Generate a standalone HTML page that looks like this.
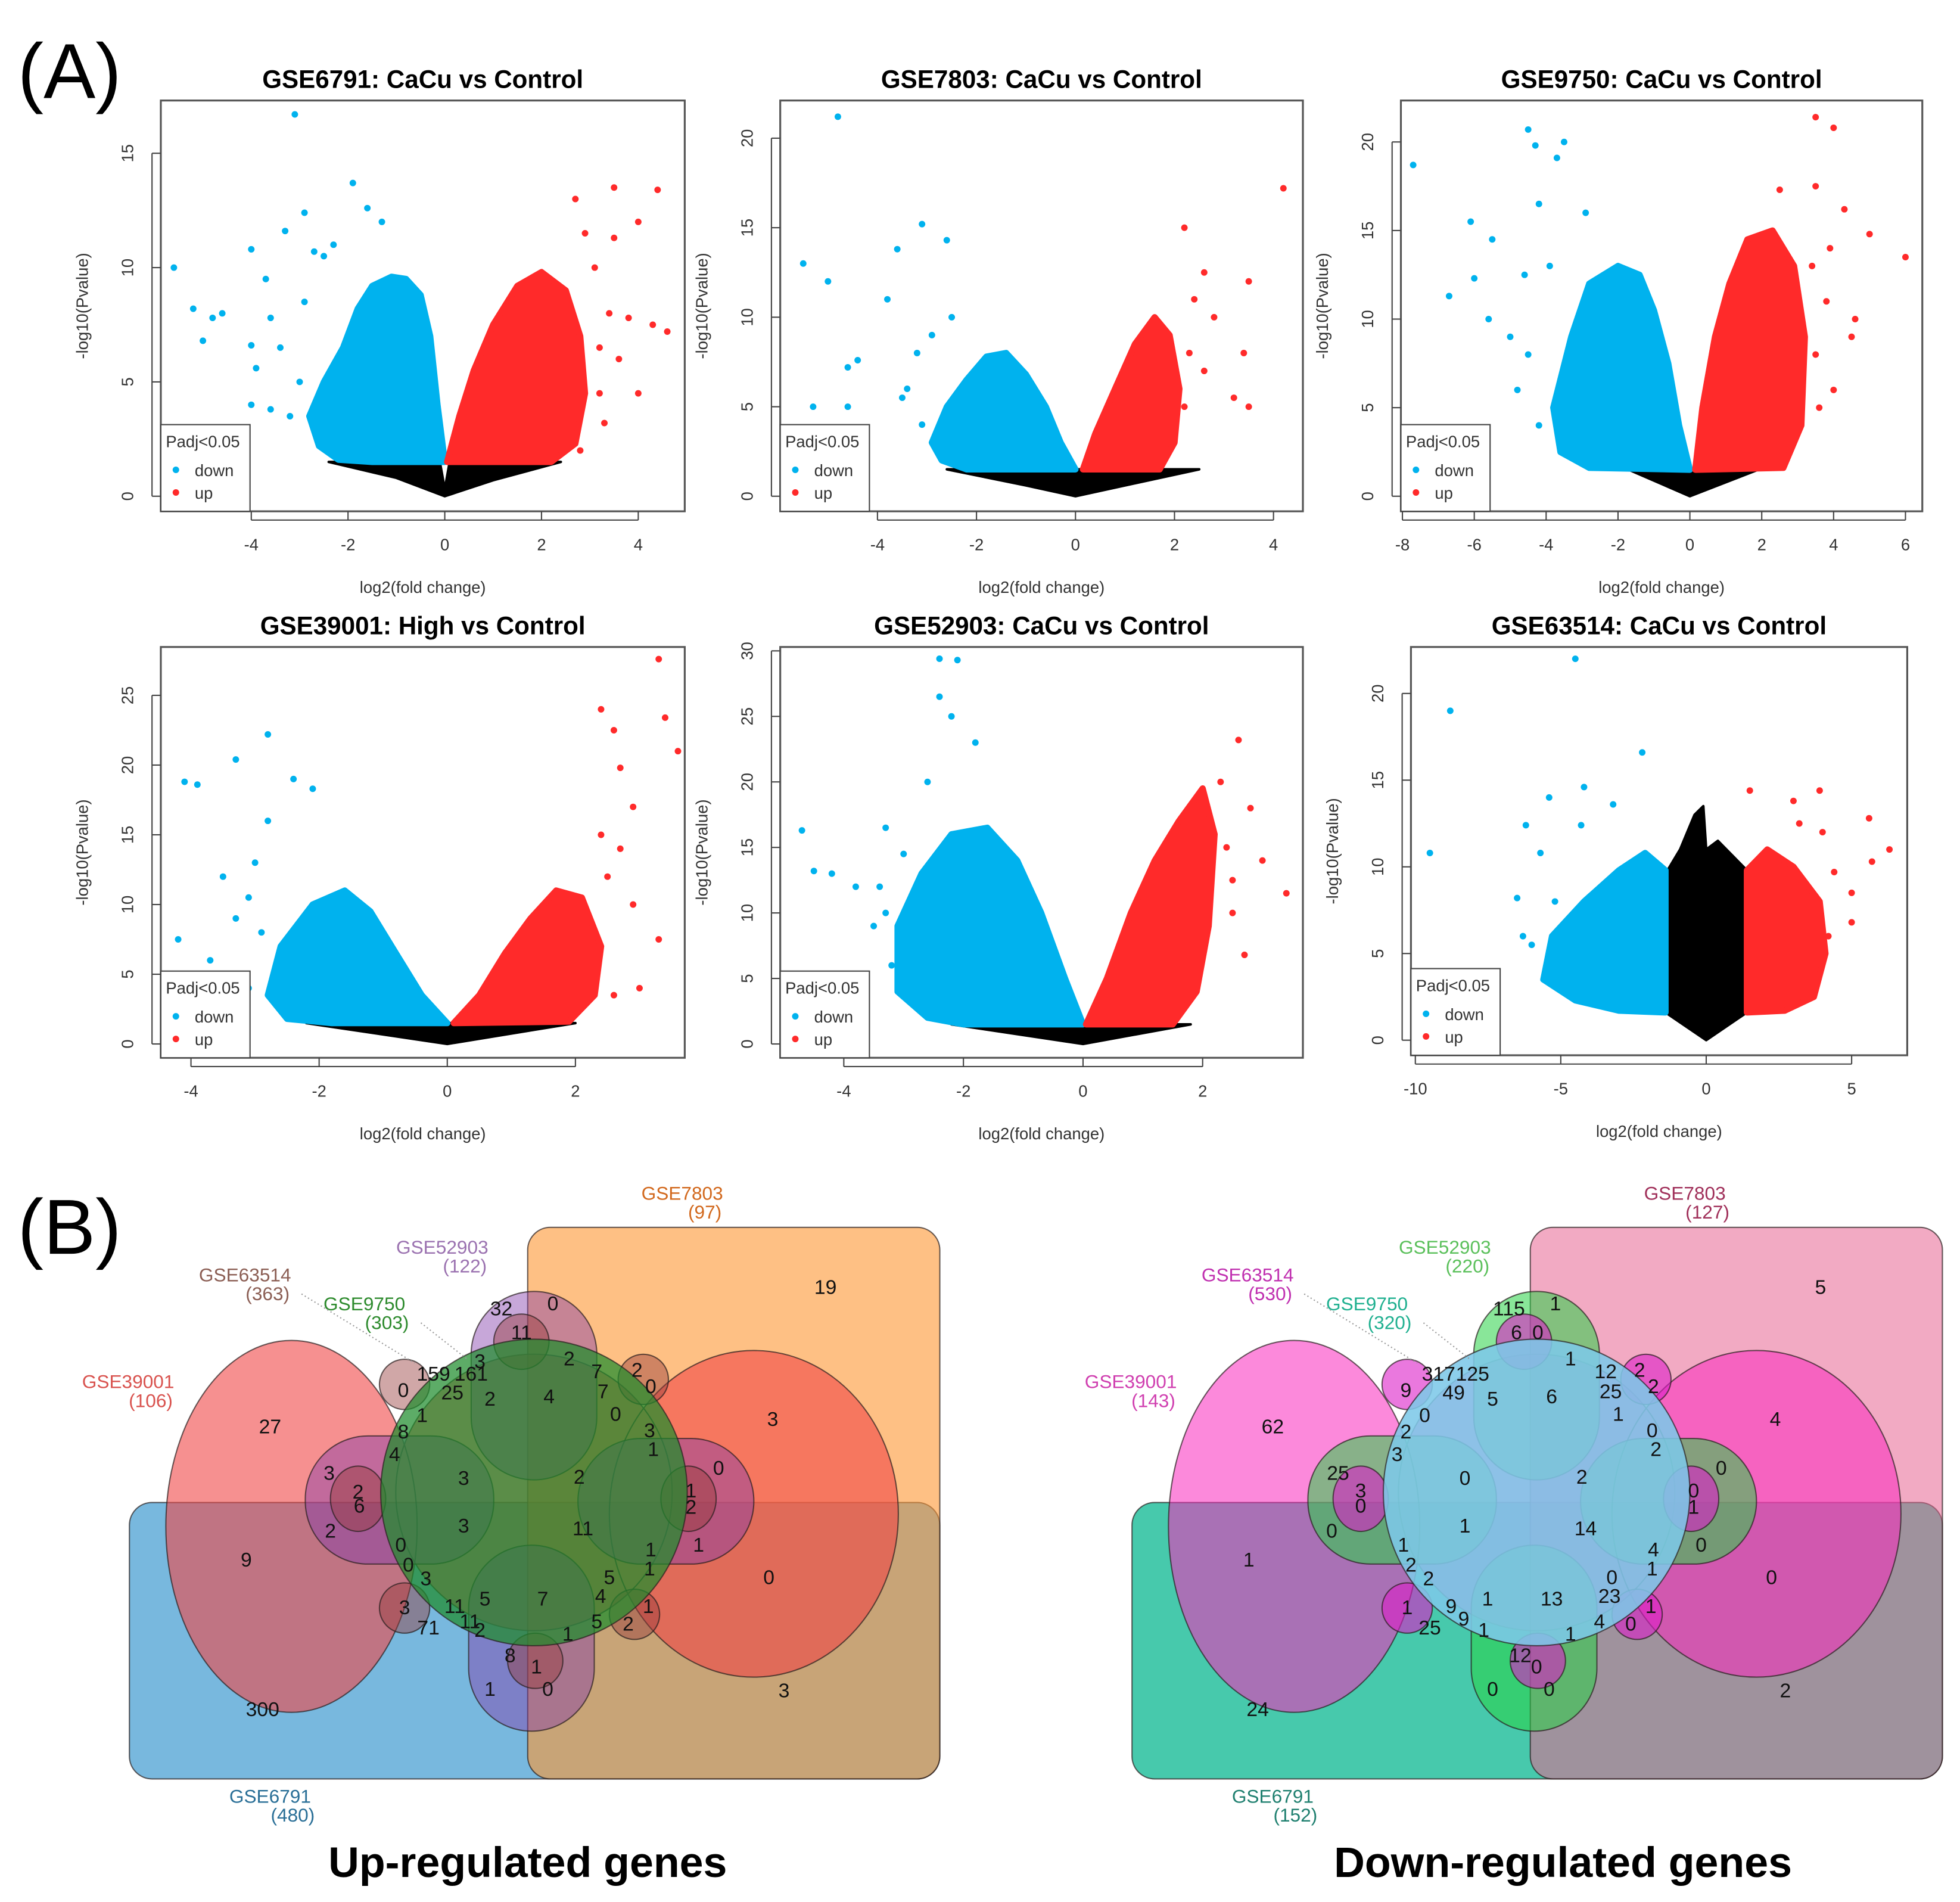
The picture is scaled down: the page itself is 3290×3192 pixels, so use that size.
<!DOCTYPE html>
<html><head><meta charset="utf-8">
<style>
html,body{margin:0;padding:0;background:#fff;}
svg{display:block;}
text{font-family:"Liberation Sans",sans-serif;}
</style></head>
<body>
<svg id="fig" xmlns="http://www.w3.org/2000/svg" width="3290" height="3192" viewBox="0 0 1560 1514" preserveAspectRatio="none">
<rect x="0" y="0" width="1560" height="1514" fill="#fff"/>
<text x="14" y="78" font-size="62">(A)</text>
<text x="14" y="998" font-size="62">(B)</text>
<g id="volc"></g>
<g id="venn"></g>
<text x="420" y="1494" font-size="34" font-weight="bold" text-anchor="middle">Up-regulated genes</text>
<text x="1244" y="1494" font-size="34" font-weight="bold" text-anchor="middle">Down-regulated genes</text>
</svg>
<script>
// ---------- Volcano data (data coordinates: log2FC, -log10 P) ----------
const titles = ["GSE6791: CaCu vs Control","GSE7803: CaCu vs Control","GSE9750: CaCu vs Control","GSE39001: High vs Control","GSE52903: CaCu vs Control","GSE63514: CaCu vs Control"];
const xTicks = [[-4,-2,0,2,4],[-4,-2,0,2,4],[-8,-6,-4,-2,0,2,4,6],[-4,-2,0,2],[-4,-2,0,2],[-10,-5,0,5]];
const yTicks = [[0,5,10,15],[0,5,10,15,20],[0,5,10,15,20],[0,5,10,15,20,25],[0,5,10,15,20,25,30],[0,5,10,15,20]];
const blueEnv = [
 [[0,1.5],[-0.15,4],[-0.3,7],[-0.5,8.8],[-0.8,9.5],[-1.1,9.6],[-1.5,9.2],[-1.8,8.2],[-2.1,6.5],[-2.5,5],[-2.8,3.5],[-2.6,2.2],[-2.2,1.6],[-1.5,1.5]],
 [[0,1.5],[-0.3,3],[-0.6,5],[-1,6.8],[-1.4,8],[-1.8,7.8],[-2.2,6.5],[-2.6,5],[-2.9,3],[-2.7,2],[-2.2,1.5]],
 [[0,1.5],[-0.3,4],[-0.6,7.5],[-1,10.5],[-1.4,12.5],[-2,13],[-2.8,12],[-3.3,9],[-3.8,5],[-3.6,2.5],[-2.8,1.6]],
 [[0,1.5],[-0.4,3.5],[-0.8,6.5],[-1.2,9.5],[-1.6,11],[-2.1,10],[-2.6,7],[-2.8,3.5],[-2.5,1.8],[-1.8,1.5]],
 [[0,1.5],[-0.3,5],[-0.7,10],[-1.1,14],[-1.6,16.5],[-2.2,16],[-2.7,13],[-3.1,9],[-3.1,4],[-2.6,2],[-2,1.5]],
 [[-1.4,1.6],[-1.4,9.8],[-2.1,10.8],[-3,9.8],[-4.2,8],[-5.3,6],[-5.6,3.5],[-4.5,2.3],[-3,1.7]]
];
const redEnv = [
 [[0.05,1.5],[0.3,3.5],[0.6,5.5],[1,7.5],[1.5,9.2],[2,9.8],[2.5,9],[2.8,7],[2.9,4.5],[2.7,2.3],[2.2,1.5]],
 [[0.15,1.5],[0.4,3.5],[0.8,6],[1.2,8.5],[1.6,10],[1.9,9],[2.1,6],[2,3],[1.7,1.5]],
 [[0.15,1.5],[0.35,5],[0.7,9],[1.1,12],[1.6,14.5],[2.3,15],[2.9,13],[3.2,9],[3.1,4],[2.6,1.6]],
 [[0.1,1.5],[0.5,3.5],[0.9,6.5],[1.3,9],[1.7,11],[2.1,10.5],[2.4,7],[2.3,3.5],[1.9,1.6]],
 [[0.05,1.5],[0.4,5],[0.8,10],[1.2,14],[1.6,17],[2,19.5],[2.2,16],[2.1,9],[1.9,4],[1.5,1.5]],
 [[1.4,1.6],[1.4,9.8],[2.1,11],[3,10],[3.9,8],[4.1,5],[3.7,2.5],[2.7,1.7]]
];
const blackEnv = [
 [[-2.4,1.5],[-1,0.8],[0,0],[1,0.7],[2.4,1.5],[0.1,1.5],[0,0.3],[-0.1,1.5]],
 [[-2.6,1.5],[-1,0.6],[0,0],[1,0.6],[2.5,1.5]],
 [[-1.7,1.5],[0,0],[1.9,1.5]],
 [[-2.2,1.5],[0,0],[2,1.5]],
 [[-2.2,1.5],[0,0],[1.8,1.5]],
 [[-1.4,1.6],[-1.4,9.6],[-0.9,11],[-0.4,13],[-0.1,13.5],[0,11],[0.4,11.5],[1.4,9.8],[1.4,1.6],[0,0]]
];
const blueOut = [
 [[-3.1,16.7],[-1.9,13.7],[-1.6,12.6],[-2.9,12.4],[-3.3,11.6],[-4,10.8],[-5.6,10],[-5.2,8.2],[-4.6,8],[-5,6.8],[-4,6.6],[-3.6,7.8],[-4,4],[-3.6,3.8],[-3.9,5.6],[-2.7,10.7],[-3.4,6.5],[-3,5],[-2.9,8.5],[-3.2,3.5],[-2.5,10.5],[-2.3,11],[-1.3,12],[-4.8,7.8],[-3.7,9.5]],
 [[-4.8,21.2],[-3.1,15.2],[-5.5,13],[-2.6,14.3],[-3.6,13.8],[-5,12],[-3.8,11],[-4.6,7.2],[-4.4,7.6],[-5.3,5],[-4.6,5],[-3.2,8],[-3.4,6],[-3.1,4],[-2.9,9],[-3.5,5.5],[-2.5,10]],
 [[-4.5,20.7],[-4.3,19.8],[-3.5,20],[-3.7,19.1],[-7.7,18.7],[-6.1,15.5],[-6.7,11.3],[-5.5,14.5],[-4.2,16.5],[-4.6,12.5],[-2.9,16],[-6,12.3],[-5,9],[-4.5,8],[-4.8,6],[-4.2,4],[-5.6,10],[-3.9,13]],
 [[-2.8,22.2],[-3.3,20.4],[-4.1,18.8],[-3.9,18.6],[-2.4,19],[-4.2,7.5],[-3.5,12],[-3.7,6],[-2.1,18.3],[-3,13],[-3.3,9],[-3.1,4],[-2.9,8],[-3.6,3],[-2.8,16],[-3.1,10.5],[-2.7,5]],
 [[-2.4,29.4],[-2.1,29.3],[-2.4,26.5],[-2.2,25],[-4.7,16.3],[-4.5,13.2],[-4.2,13],[-3.3,16.5],[-1.8,23],[-3.3,10],[-3.5,9],[-3.2,6],[-3.4,12],[-2.6,20],[-3,14.5],[-3.8,12]],
 [[-4.5,22],[-8.8,19],[-9.5,10.8],[-2.2,16.6],[-4.2,14.6],[-5.4,14],[-6.2,12.4],[-6.5,8.2],[-6.3,6],[-5.7,10.8],[-4.3,12.4],[-3.2,13.6],[-5.2,8],[-6,5.5]]
];
const redOut = [
 [[4.4,13.4],[3.5,13.5],[4,12],[4.3,7.5],[4.6,7.2],[4,4.5],[3.6,6],[2.7,13],[3.3,3.2],[3.1,10],[3.4,8],[3.2,6.5],[2.9,11.5],[3.5,11.3],[3.8,7.8],[3.2,4.5],[2.8,2]],
 [[4.2,17.2],[2.2,15],[3.5,12],[3.4,8],[3.2,5.5],[3.5,5],[2.8,10],[2.6,12.5],[2.4,11],[2.3,8],[2.2,5],[2.6,7]],
 [[3.5,21.4],[4,20.8],[6,13.5],[5,14.8],[4.3,16.2],[3.5,17.5],[2.5,17.3],[4.6,10],[4.5,9],[3.8,11],[3.5,8],[3.4,13],[4,6],[3.6,5],[3.9,14]],
 [[3.3,27.6],[2.4,24],[3.4,23.4],[3.6,21],[2.6,22.5],[3.3,7.5],[2.7,19.8],[2.9,17],[2.7,14],[2.5,12],[2.9,10],[3,4],[2.6,3.5],[2.4,15]],
 [[3.4,11.5],[2.6,23.2],[2.8,18],[3,14],[2.5,10],[2.7,6.8],[2.4,15],[2.3,20],[2.5,12.5]],
 [[3.9,14.4],[1.5,14.4],[6.3,11],[5.6,12.8],[5.7,10.3],[5,8.5],[5,6.8],[3,13.8],[4.4,9.7],[4.2,6],[4,12],[3.2,12.5]]
];
// ---------- layout (pixel geometry, not data) ----------
const boxes = [[128,80,545,407],[621,80,1037,407],[1115,80,1530,407],[128,515,545,842],[621,515,1037,842],[1123,515,1518,840]];
const x0px = [354,856,1345,356,862,1358], xppu = [38.5,39.4,28.6,51,47.6,23.15];
const y0px = [395,395,395,831,831,828], yppu = [18.2,14.25,14.1,11.1,10.43,13.8];
const NS="http://www.w3.org/2000/svg";
function mk(tag,attrs,parent){const e=document.createElementNS(NS,tag);for(const k in attrs)e.setAttribute(k,attrs[k]);parent.appendChild(e);return e;}
const volc=document.getElementById('volc');
for(let p=0;p<6;p++){
  const [bx0,by0,bx1,by1]=boxes[p];
  const sx=v=>x0px[p]+v*xppu[p], sy=v=>y0px[p]-v*yppu[p];
  const g=mk('g',{},volc);
  
  
  const t=mk('text',{x:(bx0+bx1)/2,y:by0-10,'font-size':20,'font-weight':'bold','text-anchor':'middle'},g);
  t.textContent=titles[p];
  
  
  const clip=mk('g',{},g);
  const pts=e=>e.map(d=>sx(d[0]).toFixed(1)+','+sy(d[1]).toFixed(1)).join(' ');
  const be=mk('polygon',{points:pts(blackEnv[p]),fill:'#000','stroke':'#000','stroke-width':2,'stroke-linejoin':'round'},clip);
  
  
  const bl=mk('polygon',{points:pts(blueEnv[p]),fill:'#00B2EE','stroke':'#00B2EE','stroke-width':5,'stroke-linejoin':'round'},clip);
  
  
  const rd=mk('polygon',{points:pts(redEnv[p]),fill:'#FF2A2A','stroke':'#FF2A2A','stroke-width':5,'stroke-linejoin':'round'},clip);
  
  
  blueOut[p].forEach(d=>{const c=mk('circle',{cx:sx(d[0]),cy:sy(d[1]),r:2.6,fill:'#00B2EE'},clip);
    
    });
  redOut[p].forEach(d=>{const c=mk('circle',{cx:sx(d[0]),cy:sy(d[1]),r:2.6,fill:'#FF2A2A'},clip);
    
    });
  const fr=mk('rect',{x:bx0,y:by0,width:bx1-bx0,height:by1-by0,fill:'none',stroke:'#555','stroke-width':1.5},g);
  
  
  xTicks[p].forEach(v=>{const x=sx(v);mk('line',{x1:x,x2:x,y1:by1,y2:by1+7,stroke:'#444'},g);
    const tt=mk('text',{x:x,y:by1+31,'font-size':13,'text-anchor':'middle',fill:'#333'},g);tt.textContent=v;
    
    });
  const xs=xTicks[p];mk('line',{x1:sx(xs[0]),x2:sx(xs[xs.length-1]),y1:by1+7,y2:by1+7,stroke:'#444'},g);
  yTicks[p].forEach(v=>{const y=sy(v);mk('line',{x1:bx0,x2:bx0-7,y1:y,y2:y,stroke:'#444'},g);
    const tt=mk('text',{x:bx0-22,y:y,'font-size':13,'text-anchor':'middle',fill:'#333',transform:`rotate(-90 ${bx0-22} ${y})`},g);tt.textContent=v;
    
    });
  const ys=yTicks[p];mk('line',{x1:bx0-7,x2:bx0-7,y1:sy(ys[0]),y2:sy(ys[ys.length-1]),stroke:'#444'},g);
  const xl=mk('text',{x:(bx0+bx1)/2,y:by1+65,'font-size':13,'text-anchor':'middle',fill:'#333'},g);xl.textContent='log2(fold change)';
  
  
  const yx=bx0-58,yy=(by0+by1)/2;
  const yl=mk('text',{x:yx,y:yy,'font-size':13,'text-anchor':'middle',fill:'#333',transform:`rotate(-90 ${yx} ${yy})`},g);yl.textContent='-log10(Pvalue)';
  
  
  const lg=mk('g',{},g);
  
  
  mk('rect',{x:bx0,y:by1-69,width:71,height:69,fill:'#fff',stroke:'#444','stroke-width':1},lg);
  const l1=mk('text',{x:bx0+4,y:by1-51,'font-size':13,fill:'#333'},lg);l1.textContent='Padj<0.05';
  mk('circle',{cx:bx0+12,cy:by1-33,r:2.6,fill:'#00B2EE'},lg);
  const l2=mk('text',{x:bx0+27,y:by1-28,'font-size':13,fill:'#333'},lg);l2.textContent='down';
  mk('circle',{cx:bx0+12,cy:by1-15,r:2.6,fill:'#FF2A2A'},lg);
  const l3=mk('text',{x:bx0+27,y:by1-10,'font-size':13,fill:'#333'},lg);l3.textContent='up';
}
// ---------- Venn diagrams ----------
const vennNumsUp = [[215,1135,"27"],[196,1241,"9"],[209,1360,"300"],[657,1024,"19"],[615,1129,"3"],[612,1255,"0"],[624,1345,"3"],[399,1041,"32"],[440,1037,"0"],[415,1060,"11"],[262,1172,"3"],[285,1187,"2"],[286,1198,"6"],[263,1218,"2"],[572,1168,"0"],[550,1186,"1"],[550,1199,"2"],[556,1229,"1"],[369,1176,"3"],[461,1175,"2"],[369,1214,"3"],[464,1216,"11"],[437,1111,"4"],[390,1113,"2"],[432,1272,"7"],[386,1272,"5"],[345,1093,"159"],[375,1093,"161"],[360,1108,"25"],[382,1083,"3"],[321,1106,"0"],[336,1126,"1"],[321,1139,"8"],[314,1157,"4"],[453,1081,"2"],[475,1091,"7"],[480,1107,"7"],[490,1125,"0"],[507,1090,"2"],[518,1103,"0"],[517,1138,"3"],[520,1153,"1"],[518,1233,"1"],[517,1248,"1"],[485,1255,"5"],[478,1270,"4"],[516,1278,"1"],[475,1290,"5"],[500,1292,"2"],[452,1300,"1"],[319,1229,"0"],[325,1245,"0"],[339,1256,"3"],[322,1279,"3"],[341,1295,"71"],[362,1278,"11"],[374,1290,"11"],[382,1297,"2"],[406,1317,"8"],[427,1326,"1"],[390,1344,"1"],[436,1344,"0"]];
const vennNumsDown = [[1449,1024,"5"],[1413,1129,"4"],[1410,1255,"0"],[1421,1345,"2"],[1013,1135,"62"],[994,1241,"1"],[1001,1360,"24"],[1201,1041,"115"],[1238,1037,"1"],[1207,1060,"6"],[1224,1060,"0"],[1065,1172,"25"],[1060,1218,"0"],[1083,1186,"3"],[1083,1198,"0"],[1370,1168,"0"],[1348,1186,"0"],[1348,1199,"1"],[1354,1229,"0"],[1166,1176,"0"],[1259,1175,"2"],[1166,1214,"1"],[1262,1216,"14"],[1235,1111,"6"],[1188,1113,"5"],[1235,1272,"13"],[1184,1272,"1"],[1145,1093,"317"],[1172,1093,"125"],[1157,1108,"49"],[1119,1106,"9"],[1134,1126,"0"],[1119,1139,"2"],[1112,1157,"3"],[1250,1081,"1"],[1278,1091,"12"],[1282,1107,"25"],[1288,1125,"1"],[1305,1090,"2"],[1316,1103,"2"],[1315,1138,"0"],[1318,1153,"2"],[1316,1233,"4"],[1315,1248,"1"],[1283,1255,"0"],[1281,1270,"23"],[1314,1278,"1"],[1273,1290,"4"],[1298,1292,"0"],[1250,1300,"1"],[1117,1229,"1"],[1123,1245,"2"],[1137,1256,"2"],[1120,1279,"1"],[1138,1295,"25"],[1155,1278,"9"],[1165,1288,"9"],[1181,1297,"1"],[1210,1317,"12"],[1223,1326,"0"],[1188,1344,"0"],[1233,1344,"0"]];
const setNamesUp = ["GSE7803","GSE52903","GSE63514","GSE9750","GSE39001","GSE6791"];
const setSizesUp = [97,122,363,303,106,480];
const setSizesDown = [127,220,530,320,143,152];
const labelPos = [[543,955,'middle'],[352,998,'middle'],[195,1020,'middle'],[290,1043,'middle'],[102,1105,'middle'],[215,1435,'middle']];
const colUp = {A:'rgba(30,136,200,0.6)',B:'rgba(253,150,50,0.6)',R:'rgba(240,70,70,0.6)',P:'rgba(130,60,170,0.45)',S:'rgba(150,60,60,0.45)',G:'rgba(30,140,45,0.72)'};
const colDn = {A:'rgba(0,180,140,0.72)',B:'rgba(232,100,145,0.55)',R:'rgba(250,40,190,0.55)',P:'rgba(40,210,70,0.55)',S:'rgba(220,30,200,0.6)',G:'rgba(125,200,232,0.88)'};
const labColUp = ['#D2691E','#9B72B0','#8B5E54','#2E8B2E','#D9534F','#2A6F97'];
const labColDn = ['#A0305A','#5BC05B','#C030B0','#20B090','#D040B0','#208070'];
const venn=document.getElementById('venn');
function ell(cx,cy,rx,ry){return `M${cx-rx},${cy} a${rx},${ry} 0 1,0 ${2*rx},0 a${rx},${ry} 0 1,0 ${-2*rx},0 Z `;}
function rr(x,y,w,h,r){return `M${x+r},${y} h${w-2*r} a${r},${r} 0 0 1 ${r},${r} v${h-2*r} a${r},${r} 0 0 1 ${-r},${r} h${-(w-2*r)} a${r},${r} 0 0 1 ${-r},${-r} v${-(h-2*r)} a${r},${r} 0 0 1 ${r},${-r} Z `;}
function drawVenn(dx,col,nums,sizes,labCol,side){
  const g=mk('g',{transform:`translate(${dx},0)`},venn);
  
  
  const shapes=[
    ['A',rr(103,1196,645,220,18),'set-gse6791'],
    ['B',rr(420,977,328,439,18),'set-gse7803'],
    ['R',ell(232,1215,100,148)+ell(600,1205,115,130)+ell(425,1188,110,110),'set-gse39001'],
    ['P',rr(375,1028,100,150,50)+rr(373,1230,100,148,50)+rr(243,1143,150,102,50)+rr(460,1145,140,100,50),'set-gse52903'],
    ['S',ell(322,1102,20,20)+ell(512,1098,20,20)+ell(322,1280,20,20)+ell(505,1285,20,20)+ell(285,1193,22,26)+ell(548,1193,22,26)+ell(415,1068,22,22)+ell(426,1322,22,22),'set-gse63514'],
    ['G',ell(425,1188,122,122),'set-gse9750']
  ];
  shapes.forEach(s=>{const e=mk('path',{d:s[1],fill:col[s[0]],stroke:'rgba(40,30,30,0.7)','stroke-width':1},g);
    
    });
  nums.forEach(n=>{const t=mk('text',{x:n[0]-dx,y:n[1]+6,'font-size':16,'text-anchor':'middle',fill:'#111','font-family':'DejaVu Sans, sans-serif'},g);
    t.textContent=n[2];
    
    });
  setNamesUp.forEach((nm,i)=>{const [x,y,a]=labelPos[i];
    const t1=mk('text',{x:x,y:y,'font-size':15,'text-anchor':a,fill:labCol[i],'font-family':'DejaVu Sans, sans-serif'},g);t1.textContent=nm;
    
    
    const t2=mk('text',{x:x+18,y:y+15,'font-size':15,'text-anchor':a,fill:labCol[i],'font-family':'DejaVu Sans, sans-serif'},g);t2.textContent='('+sizes[i]+')';
    
    });
  mk('line',{x1:240,y1:1030,x2:330,y2:1085,stroke:'#999','stroke-dasharray':'1,2'},g);
  mk('line',{x1:335,y1:1053,x2:372,y2:1082,stroke:'#999','stroke-dasharray':'1,2'},g);
}
drawVenn(0,colUp,vennNumsUp,setSizesUp,labColUp,'up');
drawVenn(798,colDn,vennNumsDown,setSizesDown,labColDn,'down');
</script>
</body></html>
